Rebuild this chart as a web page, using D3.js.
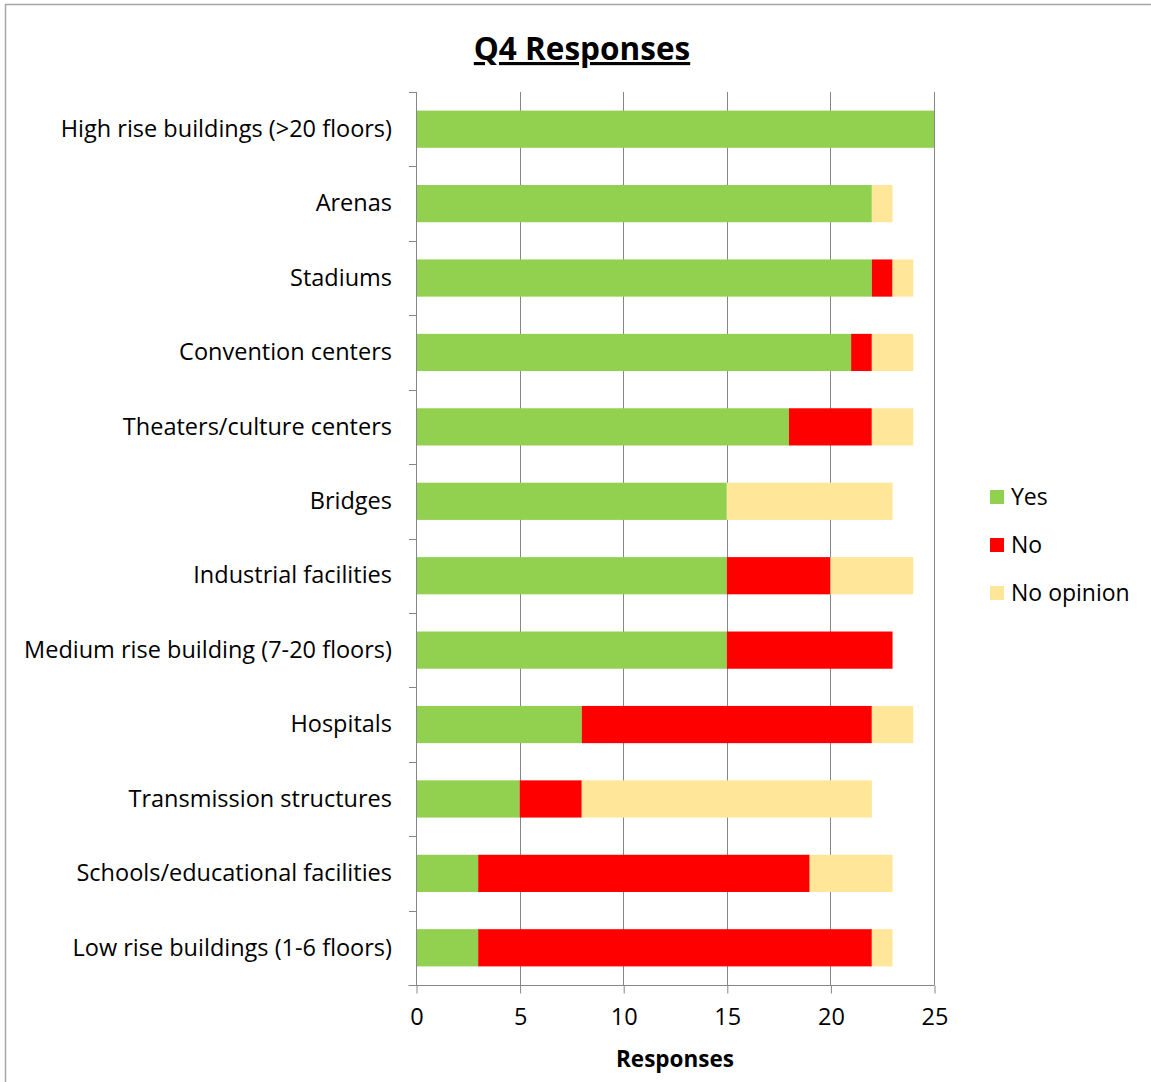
<!DOCTYPE html>
<html>
<head>
<meta charset="utf-8">
<script src="https://cdn.jsdelivr.net/npm/d3@7"></script>
<style>
  html, body { margin: 0; padding: 0; background: #fff; }
  svg { display: block; }
  text { font-family: "Open Sans", Lato, sans-serif; fill: #000; }
</style>
</head>
<body>
<svg id="chart" width="1151" height="1082"></svg>
<script>
// Survey categories, top to bottom
const categories = [
  "High rise buildings (>20 floors)",
  "Arenas",
  "Stadiums",
  "Convention centers",
  "Theaters/culture centers",
  "Bridges",
  "Industrial facilities",
  "Medium rise building (7-20 floors)",
  "Hospitals",
  "Transmission structures",
  "Schools/educational facilities",
  "Low rise buildings (1-6 floors)"
];
const seriesNames = ["Yes", "No", "No opinion"];
const yesValues       = [25, 22, 22, 21, 18, 15, 15, 15, 8, 5, 3, 3];
const noValues        = [0, 0, 1, 1, 4, 0, 5, 8, 14, 3, 16, 19];
const noOpinionValues = [0, 1, 1, 2, 2, 8, 4, 0, 2, 14, 4, 1];
const xTicks = [0, 5, 10, 15, 20, 25];
const seriesColors = ["#92d050", "#ff0000", "#ffe699"];

const rows = categories.map((c, i) => ({
  category: c,
  "Yes": yesValues[i],
  "No": noValues[i],
  "No opinion": noOpinionValues[i]
}));

const svg = d3.select("#chart");

// Outer chart frame
svg.append("rect")
  .attr("x", 5.5).attr("y", 4.5)
  .attr("width", 1300).attr("height", 1300)
  .attr("fill", "none").attr("stroke", "#a6a6a6").attr("stroke-width", 1.5);

const plot = { left: 416, right: 934, top: 92, bottom: 985 };

const x = d3.scaleLinear().domain([0, 25]).range([plot.left, plot.right]);
const y = d3.scaleBand().domain(categories).range([plot.top, plot.bottom])
  .paddingInner(0.5).paddingOuter(0.25);

// Vertical gridlines
svg.append("g")
  .selectAll("line")
  .data(xTicks.filter(t => t > 0))
  .join("line")
  .attr("x1", d => Math.round(x(d)) + 0.5).attr("x2", d => Math.round(x(d)) + 0.5)
  .attr("y1", plot.top).attr("y2", plot.bottom)
  .attr("stroke", "#868686").attr("stroke-width", 1);

// Stacked bars
const stack = d3.stack().keys(seriesNames);
const layers = stack(rows);
svg.append("g")
  .selectAll("g")
  .data(layers)
  .join("g")
  .attr("fill", (d, i) => seriesColors[i])
  .selectAll("rect")
  .data(d => d)
  .join("rect")
  .attr("x", d => x(d[0]))
  .attr("width", d => x(d[1]) - x(d[0]))
  .attr("y", d => y(d.data.category))
  .attr("height", y.bandwidth());

// Y axis: line and outside tick marks at band boundaries
const yAxisG = svg.append("g");
yAxisG.append("line")
  .attr("x1", plot.left + 0.5).attr("x2", plot.left + 0.5)
  .attr("y1", plot.top).attr("y2", plot.bottom)
  .attr("stroke", "#868686");
const step = (plot.bottom - plot.top) / categories.length;
yAxisG.selectAll("line.tick")
  .data(d3.range(categories.length + 1))
  .join("line")
  .attr("class", "tick")
  .attr("x1", plot.left - 7).attr("x2", plot.left)
  .attr("y1", d => Math.round(plot.top + d * step) + 0.5)
  .attr("y2", d => Math.round(plot.top + d * step) + 0.5)
  .attr("stroke", "#868686");
yAxisG.selectAll("text")
  .data(categories)
  .join("text")
  .attr("x", 392)
  .attr("y", d => y(d) + y.bandwidth() / 2)
  .attr("dy", "0.33em")
  .attr("text-anchor", "end")
  .attr("font-size", 23.5)
  .text(d => d);

// X axis
const xAxis = d3.axisBottom(x).tickValues(xTicks).tickSize(8).tickPadding(15);
const xAxisG = svg.append("g")
  .attr("transform", `translate(0.5,${plot.bottom + 0.5})`)
  .call(xAxis);
xAxisG.select(".domain").attr("stroke", "#868686").attr("d", `M${plot.left - 8},0H${plot.right}`);
xAxisG.selectAll(".tick line").attr("stroke", "#868686");
xAxisG.selectAll(".tick text")
  .attr("font-size", 23.5)
  .attr("font-family", "'Open Sans', Lato, sans-serif")
  .attr("fill", "#000");

// Axis title
svg.append("text")
  .attr("x", 675).attr("y", 1067)
  .attr("text-anchor", "middle")
  .attr("font-size", 22.5).attr("font-weight", "bold")
  .text("Responses");

// Chart title
svg.append("text")
  .attr("x", 582).attr("y", 60)
  .attr("text-anchor", "middle")
  .attr("font-size", 31.5).attr("font-weight", "bold")
  .attr("text-decoration", "underline")
  .text("Q4 Responses");

// Legend
const legend = svg.append("g")
  .selectAll("g")
  .data(seriesNames)
  .join("g")
  .attr("transform", (d, i) => `translate(990,${497 + i * 48})`);
legend.append("rect")
  .attr("x", 0).attr("y", -7)
  .attr("width", 14).attr("height", 14)
  .attr("fill", (d, i) => seriesColors[i]);
legend.append("text")
  .attr("x", 21).attr("y", 0)
  .attr("dy", "0.33em")
  .attr("font-size", 23)
  .text(d => d);
</script>
</body>
</html>
